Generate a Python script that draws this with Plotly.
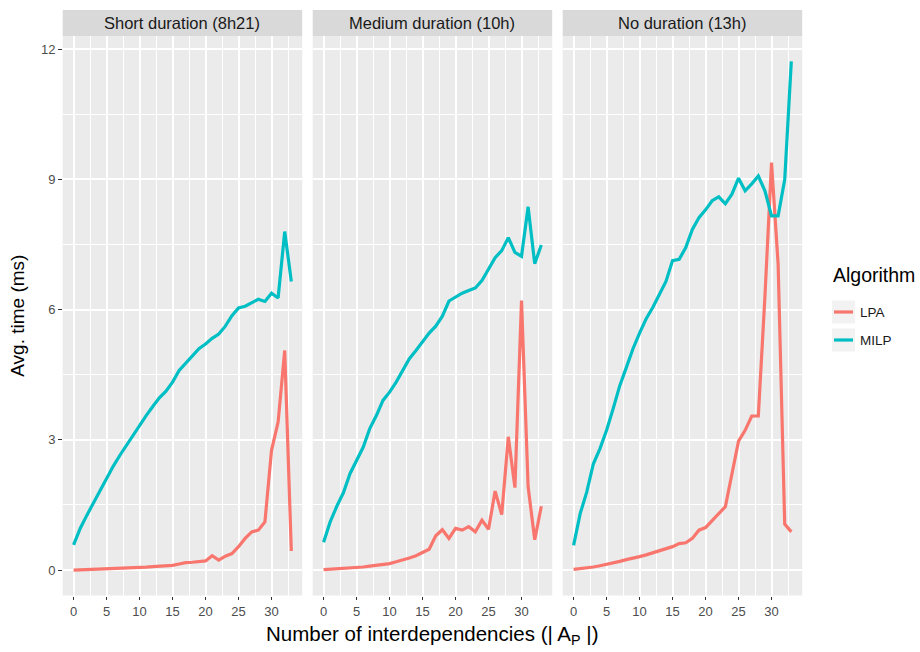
import plotly.graph_objects as go

# ---------------- data ----------------
facets = ["Short duration (8h21)", "Medium duration (10h)", "No duration (13h)"]
algorithms = ["LPA", "MILP"]
colors = {"LPA": "#F8766D", "MILP": "#00BFC4"}

x_short = list(range(34))
lpa_short = [0.0, 0.005, 0.01, 0.015, 0.02, 0.025, 0.03, 0.035, 0.04, 0.05, 0.06, 0.07,
             0.08, 0.09, 0.10, 0.11, 0.14, 0.17, 0.18, 0.20, 0.21, 0.33, 0.23, 0.32,
             0.38, 0.54, 0.73, 0.88, 0.92, 1.11, 2.76, 3.41, 5.06, 0.44]
milp_short = [0.58, 0.96, 1.26, 1.55, 1.84, 2.11, 2.39, 2.64, 2.87, 3.12, 3.35, 3.56,
              3.77, 3.97, 4.12, 4.33, 4.60, 4.77, 4.94, 5.10, 5.21, 5.34, 5.44, 5.62,
              5.86, 6.04, 6.08, 6.17, 6.24, 6.19, 6.38, 6.27, 7.80, 6.65]

x_medium = list(range(34))
lpa_medium = [0.01, 0.02, 0.03, 0.03, 0.04, 0.05, 0.07, 0.09, 0.11, 0.13, 0.15, 0.19,
              0.23, 0.28, 0.33, 0.40, 0.48, 0.79, 0.93, 0.73, 0.96, 0.92, 1.00, 0.88,
              1.15, 0.94, 1.82, 1.28, 3.07, 1.90, 6.21, 1.92, 0.70, 1.47]
milp_medium = [0.64, 1.11, 1.47, 1.78, 2.22, 2.53, 2.83, 3.26, 3.56, 3.91, 4.10, 4.33,
               4.60, 4.87, 5.06, 5.25, 5.46, 5.62, 5.85, 6.20, 6.30, 6.38, 6.44, 6.50,
               6.67, 6.93, 7.20, 7.36, 7.66, 7.32, 7.23, 8.37, 7.06, 7.49]

x_none = list(range(34))
lpa_none = [0.015, 0.03, 0.05, 0.07, 0.10, 0.13, 0.16, 0.20, 0.24, 0.27, 0.31, 0.35,
            0.40, 0.45, 0.50, 0.54, 0.61, 0.63, 0.73, 0.92, 0.98, 1.15, 1.30, 1.46,
            2.22, 2.97, 3.22, 3.55, 3.55, 6.30, 9.39, 7.05, 1.06, 0.88]
milp_none = [0.57, 1.30, 1.80, 2.45, 2.80, 3.22, 3.72, 4.25, 4.67, 5.10, 5.46, 5.79,
             6.05, 6.36, 6.65, 7.13, 7.16, 7.43, 7.85, 8.12, 8.30, 8.51, 8.60, 8.44,
             8.66, 9.03, 8.74, 8.90, 9.08, 8.74, 8.16, 8.16, 9.00, 11.72]

x_ticks = [0, 5, 10, 15, 20, 25, 30]
y_ticks = [0, 3, 6, 9, 12]

series = [
    (x_short, {"LPA": lpa_short, "MILP": milp_short}),
    (x_medium, {"LPA": lpa_medium, "MILP": milp_medium}),
    (x_none, {"LPA": lpa_none, "MILP": milp_none}),
]

# ---------------- layout geometry (pixels) ----------------
W, H = 920, 652
panel_left = [62.7, 312.7, 562.7]
panel_w = 239.5
panel_top, panel_bot = 36.0, 595.5
strip_top = 10.0

def px(x):
    return x / W

def py(y):
    return 1 - y / H

FONT = "Liberation Sans, Arial, Helvetica, sans-serif"
TICK_SIZE = 13
STRIP_SIZE = 16.5
TITLE_SIZE = 19
XTITLE_SIZE = 20.5
LEG_TITLE_SIZE = 19.5
LEG_SIZE = 13.5
LW = 3.2

fig = go.Figure()

for i, (xs, ys) in enumerate(series):
    xa = "x" if i == 0 else f"x{i+1}"
    ya = "y" if i == 0 else f"y{i+1}"
    for alg in algorithms:
        fig.add_trace(go.Scatter(
            x=xs, y=ys[alg], mode="lines", name=alg,
            line=dict(color=colors[alg], width=LW),
            xaxis=xa, yaxis=ya, showlegend=False,
            hoverinfo="skip",
        ))

xmax = 33
xpad = 0.05 * xmax
ymax = max(max(milp_none), max(lpa_none), max(milp_short), max(milp_medium))
ypad = 0.05 * ymax

layout = dict(
    width=W, height=H,
    margin=dict(l=0, r=0, t=0, b=0),
    paper_bgcolor="white",
    plot_bgcolor="#EBEBEB",
    font=dict(family=FONT, color="#4D4D4D", size=12),
    showlegend=False,
)

for i in range(3):
    xkey = "xaxis" if i == 0 else f"xaxis{i+1}"
    ykey = "yaxis" if i == 0 else f"yaxis{i+1}"
    xanchor = "y" if i == 0 else f"y{i+1}"
    yanchor = "x" if i == 0 else f"x{i+1}"
    layout[xkey] = dict(
        domain=[px(panel_left[i]), px(panel_left[i] + panel_w)],
        anchor=xanchor,
        range=[-xpad, xmax + xpad],
        tickmode="array", tickvals=x_ticks, ticktext=[str(t) for t in x_ticks],
        ticks="outside", ticklen=3.7, tickwidth=1.1, tickcolor="#333333",
        tickfont=dict(size=TICK_SIZE, color="#4D4D4D", family=FONT),
        showgrid=True, gridcolor="white", gridwidth=1.6,
        minor=dict(tickmode="linear", tick0=0, dtick=2.5, showgrid=True,
                   gridcolor="white", gridwidth=0.8, ticks=""),
        zeroline=False, showline=False, fixedrange=True,
    )
    layout[ykey] = dict(
        domain=[py(panel_bot), py(panel_top)],
        anchor=yanchor,
        range=[-ypad, ymax + ypad],
        tickmode="array", tickvals=y_ticks, ticktext=[str(t) for t in y_ticks],
        ticks="outside" if i == 0 else "", ticklen=3.7, tickwidth=1.1, tickcolor="#333333",
        showticklabels=(i == 0),
        tickfont=dict(size=TICK_SIZE, color="#4D4D4D", family=FONT),
        showgrid=True, gridcolor="white", gridwidth=1.6,
        minor=dict(tickmode="linear", tick0=0, dtick=1.5, showgrid=True,
                   gridcolor="white", gridwidth=0.8, ticks=""),
        zeroline=False, showline=False, fixedrange=True,
    )
    if i > 0:
        layout[ykey]["matches"] = "y"

fig.update_layout(**layout)

shapes = []
annotations = []

# facet strips
for i, lab in enumerate(facets):
    shapes.append(dict(type="rect", xref="paper", yref="paper",
                       x0=px(panel_left[i]), x1=px(panel_left[i] + panel_w),
                       y0=py(panel_top), y1=py(strip_top),
                       fillcolor="#D9D9D9", line=dict(width=0), layer="below"))
    annotations.append(dict(xref="paper", yref="paper",
                            x=px(panel_left[i] + panel_w / 2),
                            y=py((panel_top + strip_top) / 2),
                            text=lab, showarrow=False, xanchor="center", yanchor="middle",
                            font=dict(size=STRIP_SIZE, color="#1A1A1A", family=FONT)))

# axis titles
annotations.append(dict(xref="paper", yref="paper",
                        x=px((panel_left[0] + panel_left[2] + panel_w) / 2), y=py(635),
                        text="Number of interdependencies (| A<sub>P</sub> |)",
                        showarrow=False, xanchor="center", yanchor="middle",
                        font=dict(size=XTITLE_SIZE, color="black", family=FONT)))
annotations.append(dict(xref="paper", yref="paper",
                        x=px(18), y=py((panel_top + panel_bot) / 2),
                        text="Avg. time (ms)", textangle=-90,
                        showarrow=False, xanchor="center", yanchor="middle",
                        font=dict(size=TITLE_SIZE, color="black", family=FONT)))

# legend (ggplot style)
annotations.append(dict(xref="paper", yref="paper", x=px(831), y=py(275),
                        text="Algorithm", showarrow=False, xanchor="left", yanchor="middle",
                        font=dict(size=LEG_TITLE_SIZE, color="black", family=FONT)))
key_x0, key_x1 = 832, 855
key_h = 23
key_tops = [300.5, 328.5]
for alg, top in zip(algorithms, key_tops):
    shapes.append(dict(type="rect", xref="paper", yref="paper",
                       x0=px(key_x0), x1=px(key_x1), y0=py(top + key_h), y1=py(top),
                       fillcolor="#F2F2F2", line=dict(width=0)))
    cy = top + key_h / 2
    shapes.append(dict(type="line", xref="paper", yref="paper",
                       x0=px(key_x0 + 2), x1=px(key_x1 - 2), y0=py(cy), y1=py(cy),
                       line=dict(color=colors[alg], width=LW)))
    annotations.append(dict(xref="paper", yref="paper", x=px(858), y=py(cy),
                            text=alg, showarrow=False, xanchor="left", yanchor="middle",
                            font=dict(size=LEG_SIZE, color="#1A1A1A", family=FONT)))

fig.update_layout(shapes=shapes, annotations=annotations)

fig.write_html("out.html")
